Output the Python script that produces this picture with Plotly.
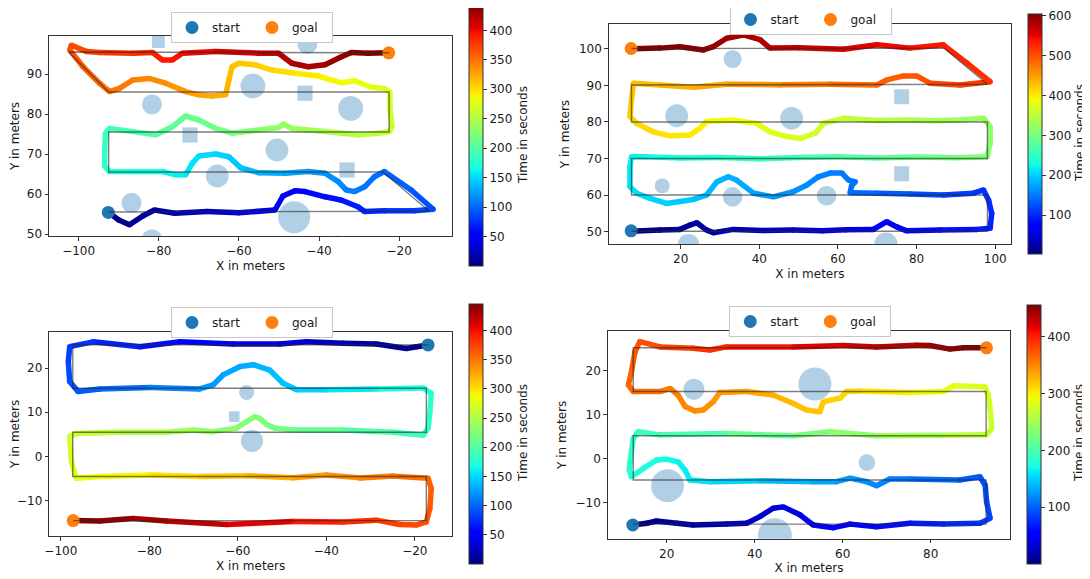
import plotly.graph_objects as go
from plotly.colors import sample_colorscale

# ---------------- DATA ----------------
# Top-left run
tl_x = [-92.5, -90, -87.3, -84, -81.1, -76, -68, -60, -51, -49, -46, -43.5, -38.5, -34.5, -30.3, -28.6, -23.7, -16.2, -11.5,
        -17, -23.7, -26.2, -28.6, -31.1, -33.2, -35.2, -38.5, -42.7, -48.5, -55, -59.5, -62.5, -65.8, -70, -71.6, -73.3,
        -75.8, -79, -86.5, -92.3, -93.5, -93.5, -93.3, -92.3, -86.5, -80.7, -76.6, -73.3, -70, -65.8, -61.7, -55.1, -50.1,
        -48.9, -46.8, -38.5, -30.3, -25.3, -22.4, -21.8, -22.3, -22.3, -23.7, -27, -31.1, -34.4, -40.2, -46.8, -51.8, -55.9,
        -60, -61.7, -62.5, -63.3, -66.7, -70, -73.3, -78.3, -82.4, -86.5, -89.8, -92.3, -94.8, -98.9, -102.2, -101.8, -98,
        -94.8, -86.5, -81.6, -79.1, -76.6, -74.1, -65.8, -55.1, -50.1, -46.8, -42.7, -38.5, -34.4, -31.9, -27.8, -22.8]
tl_y = [55.4, 53.5, 52.3, 54.5, 56, 55.2, 55.6, 55.3, 56, 59.5, 60.8, 60.6, 59.3, 58.5, 56.8, 55.6, 55.8, 55.8, 56.2,
        61, 65.6, 64.3, 61.8, 60.6, 61, 63.1, 65.2, 65.6, 65.2, 65.3, 66.5, 69.3, 70, 69.5, 67.7, 64.8,
        64.8, 65.6, 65.6, 65.6, 67, 71, 75.2, 76.4, 75.6, 74.8, 76.8, 79.5, 78.5, 76.4, 75.2, 76, 76.6,
        77.5, 76.4, 75.6, 74.8, 75.2, 75.6, 77, 81.5, 85.5, 86.4, 86.7, 88.3, 87.8, 89.5, 90.3, 91, 92.3,
        92.7, 91.8, 88.5, 84.8, 84.5, 84.8, 85.6, 87.7, 88.9, 88.5, 86.4, 85.6, 87.7, 91.8, 96, 97.2, 95.6,
        95.4, 95.2, 95.4, 93.5, 93.5, 95.2, 95.6, 95.2, 95.2, 92.7, 91.8, 92.3, 94.3, 95.4, 95.2, 95.3]
tl_t = [0, 3, 6, 10, 14, 19, 27, 35, 44, 48, 51, 54, 59, 63, 68, 70, 75, 82, 87,
        94, 101, 104, 107, 110, 112, 115, 119, 123, 129, 135, 140, 144, 148, 152, 154, 157,
        160, 163, 170, 176, 178, 182, 186, 188, 194, 200, 205, 209, 212, 217, 221, 228, 233,
        235, 237, 246, 254, 259, 262, 264, 268, 272, 274, 277, 282, 285, 291, 298, 303, 307,
        311, 313, 316, 320, 323, 327, 330, 336, 340, 344, 348, 351, 354, 360, 366, 368, 372,
        375, 383, 388, 391, 394, 397, 405, 415, 420, 424, 428, 432, 436, 438, 441, 443]
tl_ref_x = [-92.5, -12.5, -24, -92.5, -92.5, -22.5, -22.5, -92.5, -102.5, -22.5]
tl_ref_y = [55.5, 55.7, 65.5, 65.5, 75.5, 75.5, 85.5, 85.5, 95.5, 95.3]
tl_start_x, tl_start_y = [-92.6], [55.4]
tl_goal_x, tl_goal_y = [-22.6], [95.3]
tl_obs_x = [-80.1, -42.9, -56.5, -43.5, -32.1, -81.7, -72.2, -50.5, -65.4, -33, -86.8, -46.2, -81.7, -35.5]
tl_obs_y = [98.1, 97.5, 87, 85.2, 81.4, 82.4, 74.75, 71, 64.5, 66, 57.8, 54.2, 48.7, 47.4]
tl_obs_r = [1.6, 2.5, 3.1, 1.9, 3.1, 2.5, 1.9, 2.85, 2.85, 1.9, 2.5, 4.0, 2.5, 2.2]
tl_obs_kind = ['square', 'circle', 'circle', 'square', 'circle', 'circle', 'square', 'circle', 'circle', 'square',
               'circle', 'circle', 'circle', 'circle']
tl_xticks = [-100, -80, -60, -40, -20]
tl_yticks = [50, 60, 70, 80, 90]
tl_cticks = [50, 100, 150, 200, 250, 300, 350, 400]

# Top-right run
tr_x = [7.4, 14.7, 19.8, 22.4, 24.1, 26.6, 28.3, 33.4, 41, 48.6, 56, 62, 69, 72.4, 74.9, 77.5, 86, 95.3, 98.7, 99.1,
        98.3, 97, 94.5, 86.8, 78.3, 69.9, 63.1, 63.5, 64.4, 62.7, 61, 58, 55, 52, 48.6, 43.6, 38.5, 34.2, 32.1, 29.2,
        26.6, 23.2, 16.4, 12.2, 8.8, 7.1, 7.1, 7.5, 11.3, 20, 30, 40, 50, 60, 70, 80, 90, 97.9, 98.7, 98.7,
        97, 91.1, 84, 78.3, 70, 61.4, 56.3, 54.2, 50.4, 47, 42.7, 39.3, 33.4, 26.6, 24.9, 22.4, 17.3, 13, 8.8, 7.1,
        7.5, 8, 14.7, 23.2, 31.6, 45, 58, 69.9, 72.4, 76.7, 80, 83.4, 91.1, 98.7, 92.8, 86.8, 78.3, 69.9, 61.4, 50,
        42.7, 40.2, 35.9, 31.7, 28.3, 25.8, 19.8, 14.7, 8]
tr_y = [50.1, 50.4, 50.6, 51.8, 52.4, 50.4, 49.7, 50.6, 50.3, 50.4, 50.2, 50.5, 50.6, 52.7, 51.3, 50.2, 50.4, 50.6, 50.9, 55,
        58.6, 61.4, 60.5, 60, 60.3, 60.5, 60.6, 62.7, 63.6, 64.1, 66, 66, 65, 62.7, 60.9, 59.5, 60.5, 64.1, 65, 63.6,
        60, 58.8, 57.7, 59.1, 60.5, 62.3, 67.8, 70.5, 70.5, 70.1, 70.3, 69.9, 70.3, 70.5, 70.1, 70.4, 70.2, 70.5, 74.2, 78.7,
        81, 80.5, 80.3, 80.5, 80.4, 81, 79.6, 76.9, 75.5, 76, 77.3, 79.6, 80.5, 80.1, 78.3, 76.4, 76.2, 77.3, 79.6, 81.5,
        86, 90.6, 90.1, 89.5, 90.3, 90.2, 90.3, 90.1, 91.5, 92.6, 92.6, 90.6, 90.1, 91, 96.1, 101.1, 100.2, 101.1, 99.9, 100.3,
        100.2, 102.5, 103.8, 102.9, 100.6, 99.7, 100.6, 100.2, 100]
tr_t = [2, 9, 14, 17, 19, 22, 24, 29, 37, 44, 52, 58, 65, 69, 72, 75, 83, 92, 96, 100,
        104, 107, 110, 118, 126, 135, 142, 144, 145, 147, 150, 153, 156, 160, 164, 169, 174, 180, 182, 185,
        189, 193, 200, 205, 209, 211, 217, 220, 224, 232, 242, 252, 262, 272, 282, 292, 302, 310, 314, 319,
        322, 328, 335, 341, 349, 358, 363, 366, 370, 374, 378, 382, 388, 395, 397, 400, 405, 410, 414, 417,
        421, 426, 432, 441, 449, 463, 476, 488, 491, 495, 498, 502, 510, 518, 526, 534, 542, 551, 559, 571,
        578, 581, 585, 589, 593, 596, 600, 603, 605]
tr_ref_x = [7.5, 98, 98, 7.5, 7.5, 98, 98, 7.5, 7.5, 98, 87, 7.5]
tr_ref_y = [50.1, 50.1, 60, 60, 70, 70, 80, 80, 90.1, 90.3, 100.2, 100.1]
tr_start_x, tr_start_y = [7.4], [50.2]
tr_goal_x, tr_goal_y = [7.4], [100.1]
tr_obs_x = [33.2, 76.2, 19, 48.2, 15.3, 76.2, 33.2, 57.1, 22, 72.2]
tr_obs_y = [97.2, 86.9, 81.7, 81, 62.5, 65.8, 59.5, 59.8, 46.3, 46.5]
tr_obs_r = [2.3, 1.9, 2.9, 2.9, 1.9, 1.9, 2.5, 2.5, 2.8, 3.0]
tr_obs_kind = ['circle', 'square', 'circle', 'circle', 'circle', 'square', 'circle', 'circle', 'circle', 'circle']
tr_xticks = [20, 40, 60, 80, 100]
tr_yticks = [50, 60, 70, 80, 90, 100]
tr_cticks = [100, 200, 300, 400, 500, 600]

# Bottom-left run
bl_x = [-17, -19.6, -21.9, -28.7, -36.2, -44.5, -50.5, -61.1, -73.1, -82.1, -92.7, -98, -98.3, -98, -96.1, -91.2,
        -79.9, -68.6, -65.6, -63.3, -59.5, -56.5, -52.8, -49.8, -46.7, -40, -28.7, -18.1, -16.3, -16.6, -17, -18.1,
        -24.9, -36.2, -47.5, -51.6, -53.5, -55, -56.2, -58, -60.3, -65.6, -70.1, -76.1, -87.4, -96.5, -98, -97.6,
        -96.5, -91.2, -79.9, -68.6, -58, -47.5, -40, -32.4, -24.9, -17, -16.3, -16.6, -17.4, -19.6, -23.4, -28.7,
        -36.2, -47.5, -62.5, -76.1, -83.7, -91.2, -97.2]
bl_y = [25.3, 24.9, 24.5, 25.5, 25.7, 26, 25.5, 25.5, 26, 24.9, 26, 24.9, 21.5, 17, 14.7, 15.3,
        15.6, 15.3, 16.2, 18.5, 20.4, 20.8, 19.6, 16.6, 15.1, 15.1, 15.3, 15.5, 14.3, 10.1, 6.4, 4.8,
        5.45, 6, 6, 6.4, 7.2, 8.6, 9, 7.9, 6.4, 5.6, 6, 5.45, 5.45, 5.2, 4.5, -1.2,
        -5, -4.6, -4.25, -4.6, -4.4, -4.85, -4.25, -4.9, -4.5, -5, -7.3, -11.8, -14.9, -15.6, -15.5, -14.5,
        -14.9, -14.8, -15.5, -14.7, -14.1, -14.7, -14.6]
bl_t = [0, 3, 5, 12, 20, 28, 34, 45, 57, 66, 77, 82, 85, 90, 93, 98,
        109, 121, 124, 127, 131, 134, 138, 141, 145, 151, 163, 174, 176, 180, 184, 186,
        193, 204, 216, 220, 222, 224, 225, 227, 230, 235, 240, 246, 257, 266, 268, 274,
        278, 283, 295, 306, 317, 328, 335, 343, 351, 359, 361, 366, 369, 371, 375, 381,
        388, 400, 415, 428, 435, 442, 446]
bl_ref_x = [-17, -97.3, -97.3, -17.4, -17.4, -97.3, -97.3, -17.4, -17.4, -97.2]
bl_ref_y = [25.3, 25.4, 15.45, 15.45, 5.45, 5.45, -4.6, -4.6, -14.6, -14.6]
bl_start_x, bl_start_y = [-17], [25.3]
bl_goal_x, bl_goal_y = [-97.2], [-14.6]
bl_obs_x = [-58, -60.8, -56.8]
bl_obs_y = [14.5, 9, 3.5]
bl_obs_r = [1.7, 1.2, 2.5]
bl_obs_kind = ['circle', 'square', 'circle']
bl_xticks = [-100, -80, -60, -40, -20]
bl_yticks = [-10, 0, 10, 20]
bl_cticks = [50, 100, 150, 200, 250, 300, 350, 400]

# Bottom-right run
br_x = [12.3, 15.5, 17.7, 22.3, 26, 33.6, 38.2, 41.2, 44.2, 46.5, 50.3, 53.3, 57.9, 61.7, 67.7, 75.3, 82.9, 91.2,
        93.5, 92.7, 92.4, 91.2, 86.6, 75.3, 70.7, 67.7, 65.5, 61.7, 58.6, 53.3, 41.2, 29.8, 25.3, 24.2, 22.6, 20,
        17.7, 14.7, 12, 11.5, 11.7, 12.4, 13.5, 18.5, 33.6, 48.8, 57.1, 67.7, 82.9, 92.7, 93.9, 93.5, 93.1, 92.3,
        85.2, 82.9, 75.3, 63.9, 60.9, 59.4, 55.6, 54.8, 51.8, 48.8, 44.2, 38.2, 32.1, 30.6, 28.3, 26.4, 24.2, 22.6,
        20.8, 18.5, 12.4, 11.3, 12, 12.8, 13.9, 18.5, 26, 29.8, 33.6, 48.8, 60.1, 67.7, 76.8, 79.8, 84.4, 87.4, 92]
br_y = [-15, -14.6, -14.1, -14.6, -15, -14.8, -14.6, -13.1, -11.2, -10.9, -12.7, -15, -15.6, -14.8, -15.4, -14.6, -14.8, -14.6,
        -13.5, -9.7, -6, -4.1, -4.8, -4.6, -4.6, -6.1, -5.2, -4.4, -5.2, -5.2, -5, -5.2, -4.8, -2.6, -0.7, -0.1,
        -0.3, -2.2, -4.1, -2.5, -0.7, 4.6, 6.1, 5.4, 5.7, 5.2, 6.1, 5.2, 5.3, 5.4, 6.9, 11.4, 14.4, 16.3,
        16.5, 15.2, 15, 15.3, 15.2, 13.7, 12.9, 10.6, 11, 12.5, 14.4, 15.2, 15, 12.9, 11, 10.8, 11.8, 14.4,
        15.9, 15.2, 15.2, 16.7, 19.7, 24.2, 26.5, 25.3, 25, 24.6, 25.3, 25.3, 25.6, 25.3, 25.7, 25.6, 24.8, 25.1, 25.1]
br_t = [0, 3, 6, 10, 14, 22, 26, 30, 34, 36, 40, 44, 49, 53, 59, 66, 74, 82,
        85, 89, 92, 94, 99, 110, 115, 118, 121, 125, 128, 133, 145, 157, 161, 164, 166, 169,
        171, 175, 178, 180, 181, 186, 188, 193, 208, 223, 231, 242, 257, 267, 269, 273, 276, 278,
        285, 288, 295, 307, 310, 312, 316, 318, 321, 324, 329, 335, 341, 343, 346, 348, 350, 353,
        355, 357, 363, 365, 368, 373, 375, 380, 388, 392, 396, 411, 422, 430, 439, 442, 447, 450, 455]
br_ref_x = [12.3, 92.6, 92.6, 12.4, 12.4, 92.6, 92.6, 12.4, 12.4, 92.7]
br_ref_y = [-14.8, -14.8, -4.8, -4.8, 5.2, 5.2, 15.2, 15.2, 25.1, 25.1]
br_start_x, br_start_y = [12.3], [-15]
br_goal_x, br_goal_y = [92.7], [25.1]
br_obs_x = [26.2, 53.7, 65.5, 20.2, 44.6]
br_obs_y = [15.7, 16.9, -0.9, -6.1, -17.3]
br_obs_r = [2.4, 3.75, 1.9, 3.75, 3.85]
br_obs_kind = ['circle', 'circle', 'circle', 'circle', 'circle']
br_xticks = [20, 40, 60, 80]
br_yticks = [-10, 0, 10, 20]
br_cticks = [100, 200, 300, 400]

# ---------------- STYLE / LAYOUT ----------------
OFF = 8                      # default page margin around the plot div
W, H = 1080, 569
FONT = "DejaVu Sans"
TXT = '#1a1a1a'
JET = [[0, 'rgb(0,0,128)'], [0.11, 'rgb(0,0,255)'], [0.125, 'rgb(0,0,255)'], [0.34, 'rgb(0,219,255)'],
       [0.35, 'rgb(0,230,247)'], [0.375, 'rgb(21,255,226)'], [0.64, 'rgb(238,255,8)'], [0.65, 'rgb(247,246,0)'],
       [0.66, 'rgb(255,236,0)'], [0.89, 'rgb(255,19,0)'], [0.91, 'rgb(232,0,0)'], [1, 'rgb(128,0,0)']]


def fx(px):
    return (px - OFF) / W


def fy(py):
    return 1 - (py - OFF) / H


panels = [
    dict(x=tl_x, y=tl_y, t=tl_t, rx=tl_ref_x, ry=tl_ref_y, sx=tl_start_x, sy=tl_start_y, gx=tl_goal_x, gy=tl_goal_y,
         ox=tl_obs_x, oy=tl_obs_y, orad=tl_obs_r, okind=tl_obs_kind, xt=tl_xticks, yt=tl_yticks, ct=tl_cticks,
         dom=(49, 452, 36, 236), xr=[-107.4, -6.8], yr=[49.5, 99.5], cr=[0, 443], cb=(469, 5, 266),
         cbt=(523, 135), lg=(252, 12)),
    dict(x=tr_x, y=tr_y, t=tr_t, rx=tr_ref_x, ry=tr_ref_y, sx=tr_start_x, sy=tr_start_y, gx=tr_goal_x, gy=tr_goal_y,
         ox=tr_obs_x, oy=tr_obs_y, orad=tr_obs_r, okind=tr_obs_kind, xt=tr_xticks, yt=tr_yticks, ct=tr_cticks,
         dom=(608.7, 1011, 24, 244), xr=[1.7, 104], yr=[46.6, 106.8], cr=[2, 605], cb=(1028, 14, 254),
         cbt=(1080, 133), lg=(810.5, 4)),
    dict(x=bl_x, y=bl_y, t=bl_t, rx=bl_ref_x, ry=bl_ref_y, sx=bl_start_x, sy=bl_start_y, gx=bl_goal_x, gy=bl_goal_y,
         ox=bl_obs_x, oy=bl_obs_y, orad=bl_obs_r, okind=bl_obs_kind, xt=bl_xticks, yt=bl_yticks, ct=bl_cticks,
         dom=(49.3, 452, 331.7, 536), xr=[-102.6, -11.6], yr=[-18.1, 28.3], cr=[0, 446], cb=(469, 304, 563.7),
         cbt=(523, 433), lg=(252, 307)),
    dict(x=br_x, y=br_y, t=br_t, rx=br_ref_x, ry=br_ref_y, sx=br_start_x, sy=br_start_y, gx=br_goal_x, gy=br_goal_y,
         ox=br_obs_x, oy=br_obs_y, orad=br_obs_r, okind=br_obs_kind, xt=br_xticks, yt=br_yticks, ct=br_cticks,
         dom=(607.7, 1010.3, 331, 538.7), xr=[6.6, 98.1], yr=[-18.1, 28.9], cr=[0, 455], cb=(1027, 305, 564.3),
         cbt=(1079, 433), lg=(810.3, 306)),
]

fig = go.Figure()
layout = dict(width=W, height=H, margin=dict(l=0, r=0, t=0, b=0, pad=0, autoexpand=False),
              paper_bgcolor='white', plot_bgcolor='white',
              font=dict(family=FONT, size=12, color=TXT))
annotations = []

for k, p in enumerate(panels, start=1):
    suf = '' if k == 1 else str(k)
    xa, ya = 'x' + suf, 'y' + suf
    ca = 'coloraxis' + suf
    lgname = 'legend' + suf
    x0, x1, ytop, ybot = p['dom']
    pxm = (x1 - x0) / (p['xr'][1] - p['xr'][0])
    cmin, cmax = p['cr']

    # obstacles
    fig.add_trace(go.Scatter(
        x=p['ox'], y=p['oy'], mode='markers', xaxis=xa, yaxis=ya, showlegend=False, hoverinfo='skip',
        marker=dict(symbol=p['okind'], size=[2 * r * pxm for r in p['orad']],
                    color='rgba(31,119,180,0.5)', line=dict(width=0))))

    # trajectory segments coloured by time
    xs, ys, ts = p['x'], p['y'], p['t']
    for i in range(len(xs) - 1):
        v = ((ts[i] + ts[i + 1]) / 2 - cmin) / (cmax - cmin)
        v = min(max(v, 0), 1)
        col = sample_colorscale(JET, [v])[0]
        fig.add_trace(go.Scatter(x=[xs[i], xs[i + 1]], y=[ys[i], ys[i + 1]], mode='lines', xaxis=xa, yaxis=ya,
                                 line=dict(color=col, width=5.5), showlegend=False, hoverinfo='skip'))
    fig.add_trace(go.Scatter(x=xs, y=ys, mode='markers', xaxis=xa, yaxis=ya, showlegend=False,
                             marker=dict(size=5.5, color=ts, coloraxis=ca, line=dict(width=0))))

    # start / goal
    fig.add_trace(go.Scatter(x=p['sx'], y=p['sy'], mode='markers', name='start', xaxis=xa, yaxis=ya,
                             legend=lgname, marker=dict(size=13, color='#1f77b4')))
    fig.add_trace(go.Scatter(x=p['gx'], y=p['gy'], mode='markers', name='goal', xaxis=xa, yaxis=ya,
                             legend=lgname, marker=dict(size=13, color='#ff7f0e')))

    # reference path
    fig.add_trace(go.Scatter(x=p['rx'], y=p['ry'], mode='lines', xaxis=xa, yaxis=ya, showlegend=False,
                             hoverinfo='skip', line=dict(color='rgba(40,40,40,0.6)', width=1.4)))

    axis_common = dict(showline=True, linecolor='#333', linewidth=1, mirror=True, ticks='outside', ticklen=3.5,
                       tickwidth=1, tickcolor='#333', showgrid=False, zeroline=False, automargin=False,
                       tickfont=dict(family=FONT, size=12, color=TXT))
    layout['xaxis' + suf] = dict(axis_common, domain=[fx(x0), fx(x1)], range=p['xr'], anchor=ya,
                                 tickvals=p['xt'], title=dict(text='X in meters', standoff=4,
                                                              font=dict(family=FONT, size=12, color=TXT)))
    layout['yaxis' + suf] = dict(axis_common, domain=[fy(ybot), fy(ytop)], range=p['yr'], anchor=xa,
                                 tickvals=p['yt'], title=dict(text='Y in meters', standoff=6,
                                                              font=dict(family=FONT, size=12, color=TXT)))
    cbx, cbtop, cbbot = p['cb']
    layout[ca] = dict(colorscale=JET, cmin=cmin, cmax=cmax,
                      colorbar=dict(x=fx(cbx), xanchor='left', y=fy((cbtop + cbbot) / 2), yanchor='middle',
                                    len=cbbot - cbtop, lenmode='pixels', thickness=14, thicknessmode='pixels',
                                    xpad=0, ypad=0, outlinewidth=1, outlinecolor='#333',
                                    ticks='outside', ticklen=4, tickcolor='#333', tickvals=p['ct'],
                                    tickfont=dict(family=FONT, size=12, color=TXT)))
    tx, ty = p['cbt']
    annotations.append(dict(text='Time in seconds', x=fx(tx), y=fy(ty), xref='paper', yref='paper',
                            xanchor='center', yanchor='middle', textangle=-90, showarrow=False,
                            font=dict(family=FONT, size=12, color=TXT)))
    lgx, lgy = p['lg']
    layout[lgname] = dict(x=fx(lgx), xanchor='center', y=fy(lgy), yanchor='top', orientation='h',
                          bgcolor='white', bordercolor='#c8c8c8', borderwidth=1,
                          font=dict(family=FONT, size=12, color=TXT),
                          entrywidth=35, entrywidthmode='pixels', tracegroupgap=0)

layout['annotations'] = annotations
fig.update_layout(**layout)
fig.write_html("out.html")
